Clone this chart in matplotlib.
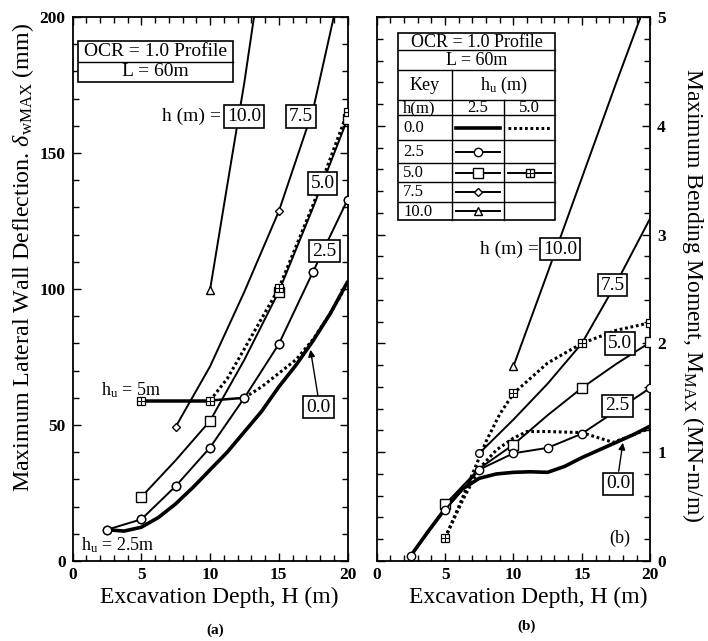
import matplotlib
matplotlib.use('Agg')
import matplotlib.pyplot as plt
from matplotlib.lines import Line2D
from matplotlib.patches import Rectangle, FancyArrowPatch
from matplotlib.ticker import MultipleLocator

plt.rcParams['font.family'] = ['Liberation Serif', 'DejaVu Serif']
plt.rcParams['mathtext.fontset'] = 'custom'
plt.rcParams['mathtext.rm'] = 'Liberation Serif'
plt.rcParams['mathtext.it'] = 'Liberation Serif:italic'

# ---------------- data: panel (a) max lateral wall deflection (mm) ----------------
H_a_h00 = [2.5, 3.75, 5, 6.25, 7.5, 8.75, 10, 11.25, 12.5, 13.75, 15, 16.25, 17.5, 18.75, 20]
D_a_h00 = [11.5, 11.0, 12.4, 16, 21, 27, 33.5, 40, 47.5, 55, 64, 72, 81, 91, 102.6]
H_a_h25 = [2.5, 5, 7.5, 10, 12.5, 15, 17.5, 20]
D_a_h25 = [11.5, 15.3, 27.5, 41.7, 60, 79.7, 106.4, 132.8]
H_a_h50 = [5, 7.5, 10, 12.5, 15, 17.5, 20]
D_a_h50 = [23.5, 37, 51.5, 74, 99, 130, 162.5]
H_a_h75 = [7.5, 10, 12.5, 15, 17.5, 19.0]
D_a_h75 = [49.3, 71.5, 99, 128.5, 166, 200]
H_a_h100 = [10, 11.25, 12.5, 13.2]
D_a_h100 = [99.6, 138, 176, 200]
H_a_u5_h00 = [5, 7.5, 10, 12.5, 13.75, 15, 16.25, 17.5, 18.75, 20]
D_a_u5_h00 = [59, 59, 59, 60, 64, 69, 74, 81.5, 91, 102]
H_a_u5_h50 = [5, 7.5, 10, 11.25, 12.5, 15, 17.5, 20]
D_a_u5_h50 = [59, 59, 59, 67, 78, 100.2, 131, 165]

# ---------------- data: panel (b) max bending moment (MN-m/m) ----------------
H_b_h00 = [2.5, 3.75, 5, 6.25, 7.5, 8.75, 10, 11.25, 12.5, 13.75, 15, 16.25, 17.5, 18.75, 20]
M_b_h00 = [0.05, 0.27, 0.48, 0.66, 0.76, 0.80, 0.815, 0.82, 0.815, 0.87, 0.95, 1.02, 1.09, 1.16, 1.24]
H_b_h25 = [2.5, 5, 7.5, 10, 12.5, 15, 20]
M_b_h25 = [0.05, 0.47, 0.84, 0.99, 1.04, 1.17, 1.59]
H_b_h50 = [5, 7.5, 10, 12.5, 15, 17.5, 20]
M_b_h50 = [0.52, 0.85, 1.07, 1.34, 1.59, 1.81, 2.01]
H_b_h75 = [7.5, 10, 12.5, 15, 17.5, 20]
M_b_h75 = [0.99, 1.30, 1.63, 2.0, 2.55, 3.15]
H_b_h100 = [10, 12.5, 15, 17.5, 19.3]
M_b_h100 = [1.79, 2.65, 3.52, 4.39, 5.0]
H_b_u5_h00 = [5, 6.25, 7.5, 8.75, 10, 11, 12.5, 15, 17.3, 20]
M_b_u5_h00 = [0.21, 0.55, 0.85, 1.02, 1.13, 1.19, 1.19, 1.18, 1.09, 1.22]
H_b_u5_h50 = [5, 6, 7, 8, 9, 10, 12.5, 15, 17.5, 20]
M_b_u5_h50 = [0.21, 0.5, 0.8, 1.1, 1.35, 1.54, 1.82, 2.0, 2.12, 2.19]

x_ticks = [0, 5, 10, 15, 20]
yA_ticks = [0, 50, 100, 150, 200]
yB_ticks = [0, 1, 2, 3, 4, 5]
table_rows = ['0.0', '2.5', '5.0', '7.5', '10.0']

# ---------------- figure ----------------
W, HPX = 708, 641
fig = plt.figure(figsize=(W / 100, HPX / 100), dpi=100)


def fx(x):
    return x / W


def fy(y):
    return 1 - y / HPX


axA = fig.add_axes([fx(72.5), fy(561), 275 / W, 544 / HPX])
axB = fig.add_axes([fx(376.7), fy(561), 273.5 / W, 544 / HPX])

DOT = (0, (0.9, 0.9))
LW = 1.4
TFS_TICK = 12.5


def line(ax, H, V, ls='-', lw=LW, marker=None, ms=6, every=None, mfc='white', zorder=3):
    ax.plot(H, V, ls=ls, lw=lw, color='black', marker=marker, ms=ms, mfc=mfc,
            mec='black', mew=1.0, markevery=every, zorder=zorder, solid_capstyle='round')


def boxplus(ax, H, V, every, ms=5.5):
    ax.plot(H, V, ls='none', marker='s', ms=ms, mfc='white', mec='black', mew=0.9,
            markevery=every, zorder=5)
    ax.plot(H, V, ls='none', marker='+', ms=ms, mec='black', mew=0.8,
            markevery=every, zorder=6)


# ---- panel (a) ----
line(axA, H_a_h00, D_a_h00, lw=2.6)
line(axA, H_a_h25, D_a_h25, marker='o', ms=6)
line(axA, H_a_h50, D_a_h50, marker='s', ms=7, every=[0, 2, 4, 6])
line(axA, H_a_h75, D_a_h75, marker='D', ms=4.5, every=[0, 3])
line(axA, H_a_h100, D_a_h100, marker='^', ms=6, every=[0])
k = H_a_u5_h00.index(12.5) + 1
axA.plot(H_a_u5_h00[:k], D_a_u5_h00[:k], ls='-', lw=1.8, color='black', zorder=2)
axA.plot(H_a_u5_h00[k - 1:], D_a_u5_h00[k - 1:], ls=DOT, lw=2.2, color='black', zorder=2)
axA.plot(H_a_u5_h50[:3], D_a_u5_h50[:3], ls='-', lw=1.8, color='black', zorder=2)
axA.plot(H_a_u5_h50[2:], D_a_u5_h50[2:], ls=DOT, lw=2.2, color='black', zorder=2)
boxplus(axA, H_a_u5_h50, D_a_u5_h50, [0, 2, 5, 7])
line(axA, H_a_h25, D_a_h25, ls='none', marker='o', ms=6, zorder=7)

axA.set_xlim(0, 20)
axA.set_ylim(0, 200)
axA.set_yticks(yA_ticks, [str(v) for v in yA_ticks], fontsize=TFS_TICK, fontweight='bold')
axA.yaxis.set_minor_locator(MultipleLocator(10))

# ---- panel (b) ----
line(axB, H_b_h00, M_b_h00, lw=2.6)
line(axB, H_b_h50, M_b_h50, marker='s', ms=7, every=[0, 2, 4, 6])
line(axB, H_b_h75, M_b_h75, marker='o', ms=5.5, every=[0])
line(axB, H_b_h100, M_b_h100, marker='^', ms=6, every=[0])
axB.plot(H_b_u5_h00, M_b_u5_h00, ls=DOT, lw=2.2, color='black', zorder=2)
axB.plot(H_b_u5_h50, M_b_u5_h50, ls=DOT, lw=2.2, color='black', zorder=2)
boxplus(axB, H_b_u5_h50, M_b_u5_h50, [0, 5, 7, 9])
line(axB, H_b_h25, M_b_h25, marker='o', ms=6, zorder=7)

axB.set_xlim(0, 20)
axB.set_ylim(0, 5)
axB.yaxis.tick_right()
axB.set_yticks(yB_ticks, [str(v) for v in yB_ticks], fontsize=TFS_TICK, fontweight='bold')
axB.yaxis.set_minor_locator(MultipleLocator(0.2))

for ax in (axA, axB):
    ax.set_xticks(x_ticks, [str(v) for v in x_ticks], fontsize=TFS_TICK, fontweight='bold')
    ax.xaxis.set_minor_locator(MultipleLocator(1))
    ax.tick_params(which='both', direction='in', top=True, right=True, left=True, width=1.0)
    ax.tick_params(which='major', length=6)
    ax.tick_params(which='minor', length=4)
    ax.tick_params(axis='x', pad=4)
    for s in ax.spines.values():
        s.set_linewidth(1.3)

axA.tick_params(axis='y', labelleft=True, labelright=False, pad=5)
axB.tick_params(axis='y', labelleft=False, labelright=True, pad=5)

# ---- axis labels ----
LABFS = 17.3
fig.text(fx(219), fy(597), 'Excavation Depth, H (m)', ha='center', va='center', fontsize=17)
fig.text(fx(528), fy(597), 'Excavation Depth, H (m)', ha='center', va='center', fontsize=17)
fig.text(fx(23), fy(257), r'Maximum Lateral Wall Deflection. $\delta_{\mathrm{wMAX}}$ (mm)',
         ha='center', va='center', rotation=90, fontsize=LABFS)
fig.text(fx(693), fy(295), r'Maximum Bending Moment, $\mathrm{M}_{\mathrm{MAX}}$ (MN-m/m)',
         ha='center', va='center', rotation=270, fontsize=17)
fig.text(fx(215), fy(630), '(a)', ha='center', va='center', fontsize=11, weight='bold')
fig.text(fx(527), fy(626), '(b)', ha='center', va='center', fontsize=11, weight='bold')

# ---- in-plot labels ----
BOX = dict(boxstyle='square,pad=0.15', fc='white', ec='black', lw=1.2)
LFS = 14


def boxlabel(x, y, s):
    fig.text(fx(x), fy(y), s, ha='center', va='center', fontsize=LFS, bbox=BOX, zorder=10)


fig.text(fx(221), fy(116.5), 'h (m) =', ha='right', va='center', fontsize=LFS)
boxlabel(244, 116.5, '10.0')
boxlabel(301, 116.5, '7.5')
boxlabel(322.5, 183.5, '5.0')
boxlabel(324.5, 251, '2.5')
boxlabel(318.5, 407, '0.0')
fig.add_artist(FancyArrowPatch(
    (fx(318.3), fy(398)), (fx(310), fy(347)), transform=fig.transFigure,
    arrowstyle='-|>', mutation_scale=10, lw=1.0, color='black'))
fig.text(fx(101), fy(390), r'h$_{\mathrm{u}}$ = 5m', ha='left', va='center', fontsize=13)
fig.text(fx(81), fy(545), r'h$_{\mathrm{u}}$ = 2.5m', ha='left', va='center', fontsize=13)

fig.text(fx(539), fy(249), 'h (m) =', ha='right', va='center', fontsize=LFS)
boxlabel(560, 249, '10.0')
boxlabel(612.5, 285, '7.5')
boxlabel(620, 343.3, '5.0')
boxlabel(617.5, 406, '2.5')
boxlabel(618.3, 484, '0.0')
fig.add_artist(FancyArrowPatch(
    (fx(618.3), fy(474)), (fx(623.3), fy(440)), transform=fig.transFigure,
    arrowstyle='-|>', mutation_scale=10, lw=1.0, color='black'))
fig.text(fx(620), fy(538), '(b)', ha='center', va='center', fontsize=13)

# ---- left OCR box ----


def rect(x0, y0, x1, y1, lw=1.2):
    fig.add_artist(Rectangle((fx(x0), fy(y1)), fx(x1) - fx(x0), fy(y0) - fy(y1),
                             transform=fig.transFigure, fc='white', ec='black', lw=lw, zorder=8))


def hline(x0, x1, y, lw=1.0):
    fig.add_artist(Line2D([fx(x0), fx(x1)], [fy(y), fy(y)], transform=fig.transFigure,
                          color='black', lw=lw, zorder=9))


def vline(x, y0, y1, lw=1.0):
    fig.add_artist(Line2D([fx(x), fx(x)], [fy(y0), fy(y1)], transform=fig.transFigure,
                          color='black', lw=lw, zorder=9))


def ctext(x, y, s, ha='center', fs=13):
    fig.text(fx(x), fy(y), s, ha=ha, va='center', fontsize=fs, zorder=11)


rect(78.3, 40.7, 233.3, 81.7)
hline(78.3, 233.3, 61.7)
ctext(155.8, 51.5, 'OCR = 1.0 Profile', fs=14)
ctext(155.8, 72, 'L = 60m', fs=14)

# ---- right key table ----
TL, TR, C1, C2 = 398.3, 555, 451.7, 504
rows_y = [33.3, 50, 70, 100, 115, 140, 163, 182, 202, 220]
rect(TL, rows_y[0], TR, rows_y[-1])
for yy in rows_y[1:-1]:
    hline(TL, TR, yy)
vline(C1, rows_y[2], rows_y[-1])
vline(C2, rows_y[3], rows_y[-1])
ctext((TL + TR) / 2, (rows_y[0] + rows_y[1]) / 2 + 0.5, 'OCR = 1.0 Profile')
ctext((TL + TR) / 2, (rows_y[1] + rows_y[2]) / 2 + 0.5, 'L = 60m')
ctext((TL + C1) / 2, (rows_y[2] + rows_y[3]) / 2, 'Key')
ctext((C1 + TR) / 2, (rows_y[2] + rows_y[3]) / 2, r'h$_{\mathrm{u}}$ (m)')
ctext(TL + 5, (rows_y[3] + rows_y[4]) / 2 + 0.5, 'h(m)', ha='left', fs=12)
ctext((C1 + C2) / 2, (rows_y[3] + rows_y[4]) / 2 + 0.5, '2.5', fs=12)
ctext((C2 + TR) / 2, (rows_y[3] + rows_y[4]) / 2 + 0.5, '5.0', fs=12)
for i, r in enumerate(table_rows):
    ctext(TL + 5, (rows_y[4 + i] + rows_y[5 + i]) / 2 + 0.5, r, ha='left', fs=12)

samples = {
    (0, 0): dict(ls='-', lw=2.6, marker=None),
    (0, 1): dict(ls=DOT, lw=2.2, marker=None),
    (1, 0): dict(ls='-', lw=LW, marker='o', ms=6),
    (2, 0): dict(ls='-', lw=LW, marker='s', ms=7),
    (2, 1): dict(ls='-', lw=LW, marker='s', ms=5.5, plus=True),
    (3, 0): dict(ls='-', lw=LW, marker='D', ms=4.5),
    (4, 0): dict(ls='-', lw=LW, marker='^', ms=6),
}
cols = [(C1, C2), (C2, TR)]
for (ri, ci), st in samples.items():
    x0, x1 = cols[ci]
    yy = (rows_y[4 + ri] + rows_y[5 + ri]) / 2
    xs = [fx(x0 + 4), fx((x0 + x1) / 2), fx(x1 - 4)]
    ys = [fy(yy)] * 3
    fig.add_artist(Line2D(xs, ys, transform=fig.transFigure, color='black',
                          ls=st['ls'], lw=st['lw'], zorder=12,
                          marker=st['marker'], ms=st.get('ms', 6), mfc='white',
                          mec='black', mew=1.0, markevery=[1]))
    if st.get('plus'):
        fig.add_artist(Line2D(xs, ys, transform=fig.transFigure, ls='none',
                              marker='+', ms=st['ms'], mec='black', mew=0.8,
                              markevery=[1], zorder=13))

fig.savefig('out.png', dpi=100)
